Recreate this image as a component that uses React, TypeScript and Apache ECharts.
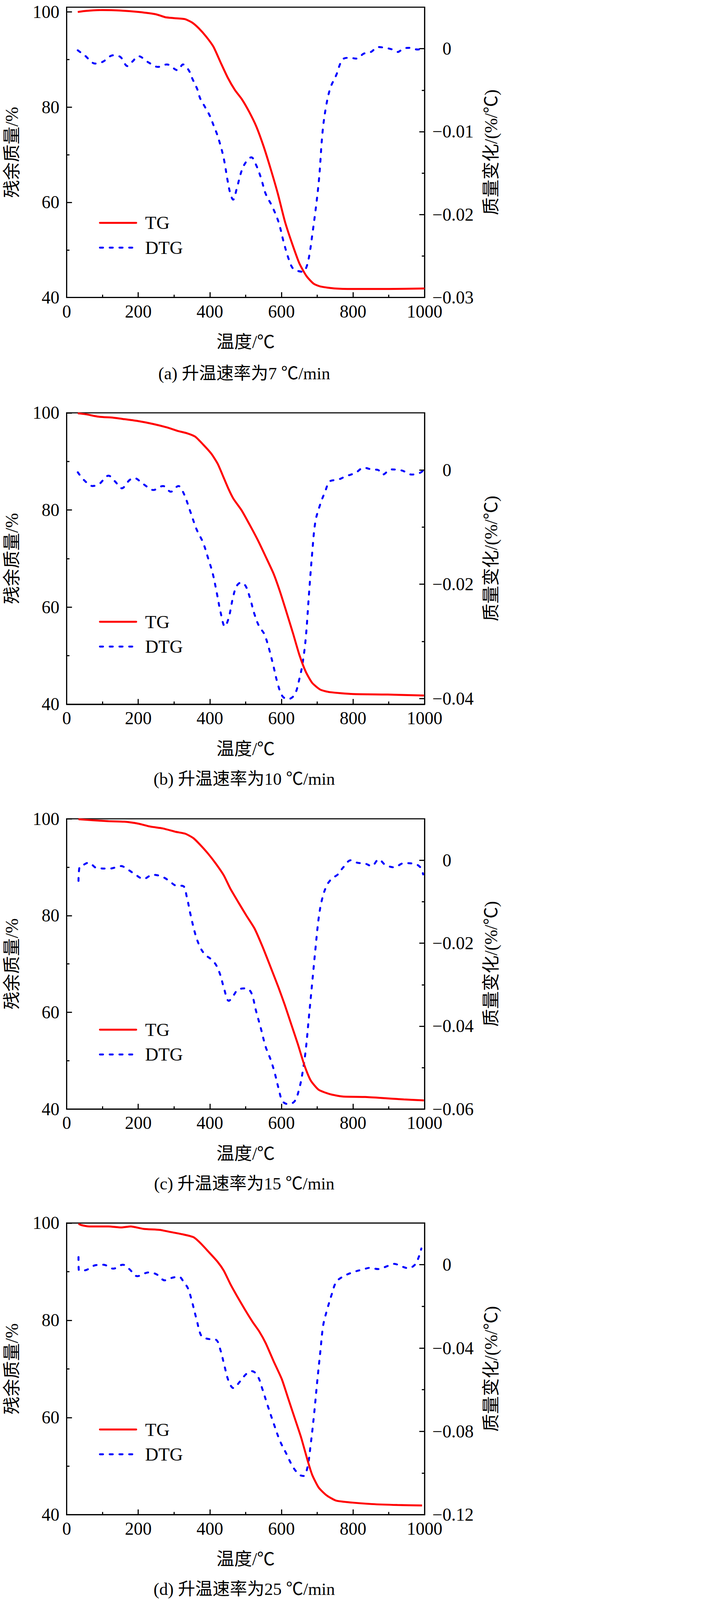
import React, { useEffect, useRef } from 'react';
import * as echarts from 'echarts';

const FONT = "'Liberation Serif', 'Times New Roman', 'Noto Sans CJK SC', serif";

// ---------- data ----------
const X_TICKS = [0, 200, 400, 600, 800, 1000];
const LEFT_MAJOR = [40, 60, 80, 100];
const LEFT_MINOR = [50, 70, 90];

// (a) 7 ℃/min
const tgT_a = [31, 50, 100, 150, 200, 250, 275, 300, 330, 350, 370, 390, 410, 430, 450, 470, 490, 510, 530, 550, 570, 590, 610, 630, 650, 670, 690, 710, 750, 800, 900, 1000];
const tgV_a = [100.0, 100.2, 100.4, 100.3, 100.0, 99.5, 98.9, 98.7, 98.5, 97.8, 96.5, 94.8, 92.7, 89.4, 86.2, 83.6, 81.6, 79.0, 75.9, 71.8, 67.0, 61.8, 55.9, 51.3, 47.2, 44.5, 42.9, 42.3, 41.9, 41.8, 41.8, 41.9];
const dtgT_a = [31, 50, 80, 100, 130, 150, 170, 185, 200, 230, 255, 280, 310, 325, 341, 352, 365, 373, 386, 400, 410, 420, 428, 435, 441, 450, 458, 465, 475, 489, 502, 516, 529, 543, 556, 574, 592, 605, 619, 632, 646, 660, 673, 686, 704, 715, 725, 737, 753, 771, 790, 810, 830, 850, 870, 890, 910, 925, 940, 960, 980, 1000];
const dtgV_a = [-0.0002, -0.0008, -0.0018, -0.0016, -0.0008, -0.0010, -0.0021, -0.0015, -0.0009, -0.0017, -0.0022, -0.0019, -0.0026, -0.0019, -0.0026, -0.0037, -0.0049, -0.0060, -0.0070, -0.0081, -0.0092, -0.0103, -0.0114, -0.0125, -0.0137, -0.0160, -0.0176, -0.0182, -0.0169, -0.0147, -0.0136, -0.0131, -0.0140, -0.0156, -0.0175, -0.0190, -0.0209, -0.0231, -0.0252, -0.0265, -0.0268, -0.0269, -0.0259, -0.0225, -0.0162, -0.0100, -0.0069, -0.0047, -0.0032, -0.0013, -0.0011, -0.0012, -0.0006, -0.0004, 0.0002, 0.0001, -0.0001, -0.0004, 0.0, 0.0001, -0.0001, 0.0];
const rMajor_a = [0, -0.01, -0.02, -0.03];
const rMinor_a = [-0.005, -0.015, -0.025];

// (b) 10 ℃/min
const tgT_b = [31, 54, 90, 130, 161, 200, 242, 280, 309, 336, 359, 381, 404, 422, 439, 453, 466, 489, 511, 534, 556, 578, 596, 614, 632, 650, 668, 686, 709, 735, 800, 897, 998];
const tgV_b = [99.9, 99.7, 99.2, 99.0, 98.7, 98.3, 97.7, 97.0, 96.3, 95.8, 95.1, 93.5, 91.6, 89.5, 86.6, 84.2, 82.3, 79.9, 77.0, 73.8, 70.4, 66.9, 63.2, 59.0, 54.7, 50.2, 46.7, 44.4, 43.0, 42.5, 42.1, 42.0, 41.8];
const dtgT_b = [31, 49, 72, 90, 117, 135, 154, 175, 188, 215, 242, 269, 291, 312, 327, 345, 363, 381, 395, 408, 420, 430, 442, 453, 465, 475, 487, 500, 513, 525, 538, 552, 565, 578, 590, 603, 619, 637, 650, 659, 668, 677, 686, 695, 709, 722, 735, 758, 780, 807, 830, 852, 870, 883, 906, 937, 964, 987, 998];
const dtgV_b = [-0.0004, -0.0018, -0.0028, -0.0025, -0.0010, -0.0020, -0.0032, -0.0018, -0.0014, -0.0025, -0.0035, -0.0028, -0.0038, -0.0028, -0.0041, -0.0072, -0.0104, -0.0127, -0.0154, -0.0181, -0.0217, -0.0249, -0.0274, -0.0258, -0.0222, -0.0203, -0.0197, -0.0203, -0.0226, -0.0253, -0.0274, -0.0287, -0.0312, -0.0344, -0.0375, -0.0396, -0.0401, -0.0393, -0.0366, -0.0339, -0.0294, -0.0217, -0.0145, -0.0090, -0.0059, -0.0038, -0.0020, -0.0017, -0.0011, -0.0005, 0.0004, 0.0001, 0.0, -0.0008, 0.0001, -0.0001, -0.0008, -0.0005, 0.0];
const rMajor_b = [0, -0.02, -0.04];
const rMinor_b = [-0.01, -0.03];

// (c) 15 ℃/min
const tgT_c = [33, 72, 117, 161, 200, 233, 269, 305, 332, 354, 372, 395, 417, 439, 457, 480, 502, 525, 547, 570, 592, 610, 628, 646, 664, 682, 704, 735, 771, 834, 879, 942, 998];
const tgV_c = [99.9, 99.7, 99.5, 99.4, 99.0, 98.4, 98.0, 97.3, 96.9, 96.0, 94.7, 92.8, 90.7, 88.3, 85.6, 82.7, 80.0, 77.3, 73.6, 69.3, 65.1, 61.4, 57.4, 53.4, 49.1, 45.9, 44.0, 43.1, 42.6, 42.5, 42.3, 42.0, 41.8];
const dtgT_c = [33, 36, 45, 61, 85, 121, 152, 170, 188, 215, 240, 265, 287, 305, 325, 336, 345, 359, 372, 386, 404, 417, 429, 439, 453, 466, 480, 502, 516, 529, 543, 556, 570, 581, 592, 603, 619, 637, 650, 659, 668, 677, 686, 695, 704, 713, 726, 740, 758, 771, 794, 812, 834, 852, 872, 890, 915, 942, 969, 987, 996];
const dtgV_c = [-0.0050, -0.0016, -0.0012, -0.0006, -0.0019, -0.0020, -0.0014, -0.0022, -0.0032, -0.0045, -0.0035, -0.0039, -0.0050, -0.0061, -0.0062, -0.0090, -0.0127, -0.0177, -0.0208, -0.0227, -0.0239, -0.0252, -0.0276, -0.0307, -0.0339, -0.0326, -0.0311, -0.0309, -0.0320, -0.0363, -0.0407, -0.0450, -0.0481, -0.0512, -0.0550, -0.0581, -0.0588, -0.0581, -0.0550, -0.0512, -0.0457, -0.0376, -0.0295, -0.0214, -0.0140, -0.0096, -0.0062, -0.0045, -0.0034, -0.0019, 0.0, -0.0006, -0.0008, -0.0014, 0.0002, -0.0011, -0.0017, -0.0007, -0.0008, -0.0016, -0.0034];
const rMajor_c = [0, -0.02, -0.04, -0.06];
const rMinor_c = [-0.01, -0.03, -0.05];

// (d) 25 ℃/min
const tgT_d = [33, 40, 63, 117, 152, 179, 215, 260, 287, 323, 354, 372, 395, 422, 439, 457, 475, 498, 520, 538, 556, 578, 601, 619, 637, 655, 673, 686, 704, 726, 753, 798, 852, 924, 993];
const tgV_d = [99.85, 99.6, 99.3, 99.3, 99.1, 99.3, 98.8, 98.6, 98.2, 97.7, 97.1, 96.0, 94.2, 92.0, 90.2, 87.5, 85.1, 82.2, 79.6, 77.7, 75.3, 71.6, 67.9, 63.9, 59.9, 55.9, 51.2, 48.2, 45.6, 44.0, 42.9, 42.5, 42.2, 42.0, 41.9];
const dtgT_d = [33, 34, 49, 81, 103, 130, 157, 175, 197, 229, 251, 274, 296, 314, 327, 339, 350, 363, 377, 395, 417, 430, 441, 453, 466, 484, 502, 518, 534, 547, 561, 578, 596, 614, 632, 650, 662, 673, 682, 691, 700, 709, 717, 728, 740, 753, 771, 798, 825, 848, 870, 897, 915, 937, 955, 973, 982, 991];
const dtgV_d = [0.0037, -0.0027, -0.0027, -0.0002, 0.0, -0.0019, 0.0, -0.0021, -0.0055, -0.0037, -0.0046, -0.0075, -0.0062, -0.0058, -0.0083, -0.0114, -0.0176, -0.0263, -0.0344, -0.0356, -0.0360, -0.0412, -0.0487, -0.0561, -0.0592, -0.0561, -0.0524, -0.0511, -0.0536, -0.0598, -0.0673, -0.0760, -0.0846, -0.0908, -0.0970, -0.1008, -0.1014, -0.0970, -0.0859, -0.0722, -0.0561, -0.0412, -0.0288, -0.0214, -0.0145, -0.0083, -0.0058, -0.0037, -0.0024, -0.0015, -0.0021, -0.0006, 0.0004, -0.0009, -0.0017, 0.0, 0.0029, 0.0078];
const rMajor_d = [0, -0.04, -0.08, -0.12];
const rMinor_d = [-0.02, -0.06, -0.1];

const CAPTIONS = ['(a) 升温速率为7 ℃/min', '(b) 升温速率为10 ℃/min', '(c) 升温速率为15 ℃/min', '(d) 升温速率为25 ℃/min'];

// ---------- layout ----------
// The browser viewport is capped at 4096px tall, so the 1819x5733 figure is
// drawn uniformly scaled to fit that height (every layout size goes through k()).
const FULL_W = 1819;
const FULL_H = 5733;
const VIEW_H = 4096;
const OY = 7;
const S = (VIEW_H - OY) / FULL_H;
const k = (v: number) => v * S;
const ky = (v: number) => OY + v * S;

const PANELS = [
  { tgT: tgT_a, tgV: tgV_a, dtgT: dtgT_a, dtgV: dtgV_a, lMax: 101, rMin: -0.03, rMax: 0.005, rMajor: rMajor_a, rMinor: rMinor_a, top: 16, height: 1042, legendTop: 757, captionY: 1331 },
  { tgT: tgT_b, tgV: tgV_b, dtgT: dtgT_b, dtgV: dtgV_b, lMax: 100, rMin: -0.041, rMax: 0.01, rMajor: rMajor_b, rMinor: rMinor_b, top: 1472, height: 1046, legendTop: 2189, captionY: 2786 },
  { tgT: tgT_c, tgV: tgV_c, dtgT: dtgT_c, dtgV: dtgV_c, lMax: 100, rMin: -0.06, rMax: 0.01, rMajor: rMajor_c, rMinor: rMinor_c, top: 2929, height: 1042, legendTop: 3653, captionY: 4239 },
  { tgT: tgT_d, tgV: tgV_d, dtgT: dtgT_d, dtgV: dtgV_d, lMax: 100, rMin: -0.12, rMax: 0.02, rMajor: rMajor_d, rMinor: rMinor_d, top: 4380, height: 1047, legendTop: 5088, captionY: 5695 },
];

const zip = (xs: number[], ys: number[]) =>
  xs.slice(0, Math.min(xs.length, ys.length)).map((x, i) => [x, ys[i]]);

const BLACK = '#000';

function buildOption() {
  const AXIS_LINE = { color: BLACK, width: k(4) };
  const textBase = { color: BLACK, fontFamily: FONT, fontSize: k(64) };
  const grid: any[] = [];
  const xAxis: any[] = [];
  const yAxis: any[] = [];
  const series: any[] = [];
  const legend: any[] = [];
  const graphic: any[] = [];

  PANELS.forEach((p, i) => {
    grid.push({
      left: k(231), width: k(1292), top: ky(p.top), height: k(p.height),
      show: true, borderColor: BLACK, borderWidth: k(4), backgroundColor: 'transparent',
    });
    xAxis.push({
      type: 'value', gridIndex: i, position: 'bottom', min: 0, max: 1000, interval: 200,
      axisLine: { show: true, onZero: false, lineStyle: AXIS_LINE },
      axisTick: { show: true, inside: true, length: k(19), customValues: X_TICKS, lineStyle: AXIS_LINE },
      minorTick: { show: true, splitNumber: 2, length: k(10), lineStyle: AXIS_LINE },
      splitLine: { show: false }, minorSplitLine: { show: false },
      axisLabel: { ...textBase, margin: k(18), customValues: X_TICKS, formatter: (v: number) => String(v) },
      name: '温度/℃', nameLocation: 'middle', nameGap: k(128),
      nameTextStyle: { ...textBase },
    });
    const yBase = yAxis.length;
    yAxis.push({
      type: 'value', gridIndex: i, position: 'left', min: 40, max: p.lMax,
      axisLine: { show: true, onZero: false, lineStyle: AXIS_LINE },
      axisTick: { show: true, inside: true, length: k(19), customValues: LEFT_MAJOR, lineStyle: AXIS_LINE },
      axisLabel: { ...textBase, lineHeight: k(48), margin: k(26), customValues: LEFT_MAJOR, formatter: (v: number) => String(v) },
      splitLine: { show: false },
      name: '残余质量/%', nameLocation: 'middle', nameRotate: 90, nameGap: k(164),
      nameTextStyle: { ...textBase },
    });
    yAxis.push({
      type: 'value', gridIndex: i, position: 'left', min: 40, max: p.lMax,
      axisLine: { show: false },
      axisTick: { show: true, inside: true, length: k(10), customValues: LEFT_MINOR, lineStyle: AXIS_LINE },
      axisLabel: { show: false }, splitLine: { show: false },
    });
    yAxis.push({
      type: 'value', gridIndex: i, position: 'right', min: p.rMin, max: p.rMax,
      axisLine: { show: true, onZero: false, lineStyle: AXIS_LINE },
      axisTick: { show: true, inside: true, length: k(19), customValues: p.rMajor, lineStyle: AXIS_LINE },
      axisLabel: {
        ...textBase, margin: k(28), customValues: p.rMajor,
        formatter: (v: number) => (v === 0 ? '{z|0}' : '\u2212' + String(Math.abs(v))),
        rich: { z: { ...textBase, padding: [0, 0, 0, k(36)] } },
      },
      splitLine: { show: false },
      name: '质量变化/(%/℃)', nameLocation: 'middle', nameRotate: 90, nameGap: k(206),
      nameTextStyle: { ...textBase },
    });
    yAxis.push({
      type: 'value', gridIndex: i, position: 'right', min: p.rMin, max: p.rMax,
      axisLine: { show: false },
      axisTick: { show: true, inside: true, length: k(10), customValues: p.rMinor, lineStyle: AXIS_LINE },
      axisLabel: { show: false }, splitLine: { show: false },
    });

    series.push({
      type: 'line', name: 'TG', xAxisIndex: i, yAxisIndex: yBase,
      data: zip(p.tgT, p.tgV), symbol: 'none', smooth: 0.2, color: '#ff0000',
      lineStyle: { color: '#ff0000', width: k(7) }, itemStyle: { color: '#ff0000' },
      z: 3,
    });
    series.push({
      type: 'line', name: 'DTG', xAxisIndex: i, yAxisIndex: yBase + 2,
      data: zip(p.dtgT, p.dtgV), symbol: 'none', smooth: 0.35, color: '#0000ff',
      lineStyle: { color: '#0000ff', width: k(7), type: [k(11), k(24)], cap: 'round' },
      itemStyle: { color: '#0000ff' },
      z: 2,
    });

    legend.push({
      orient: 'vertical', left: k(355), top: ky(p.legendTop), padding: 0,
      itemWidth: k(130), itemHeight: k(4), itemGap: k(23), selectedMode: false,
      data: ['TG', 'DTG'],
      itemStyle: { opacity: 0 },
      lineStyle: { width: k(7), cap: 'round' },
      textStyle: { color: BLACK, fontFamily: FONT, fontSize: k(66), lineHeight: k(66), padding: [0, 0, 0, k(25)] },
    });

    graphic.push({
      type: 'text', x: k(876), y: ky(p.captionY),
      style: {
        text: CAPTIONS[i], fill: BLACK, fontFamily: FONT, fontSize: k(62),
        textAlign: 'center', textVerticalAlign: 'middle', align: 'center', verticalAlign: 'middle',
      },
    });
  });

  return {
    animation: false,
    backgroundColor: '#ffffff',
    grid, xAxis, yAxis, series, legend, graphic,
  };
}

export default function App() {
  const ref = useRef<HTMLDivElement>(null);
  useEffect(() => {
    if (!ref.current) return;
    const chart = echarts.init(ref.current, undefined, { renderer: 'svg' });
    chart.setOption(buildOption() as any);
    return () => chart.dispose();
  }, []);
  return (
    <div
      ref={ref}
      style={{ position: 'absolute', left: 0, top: 0, width: Math.round(FULL_W * S), height: VIEW_H, background: '#fff' }}
    />
  );
}
